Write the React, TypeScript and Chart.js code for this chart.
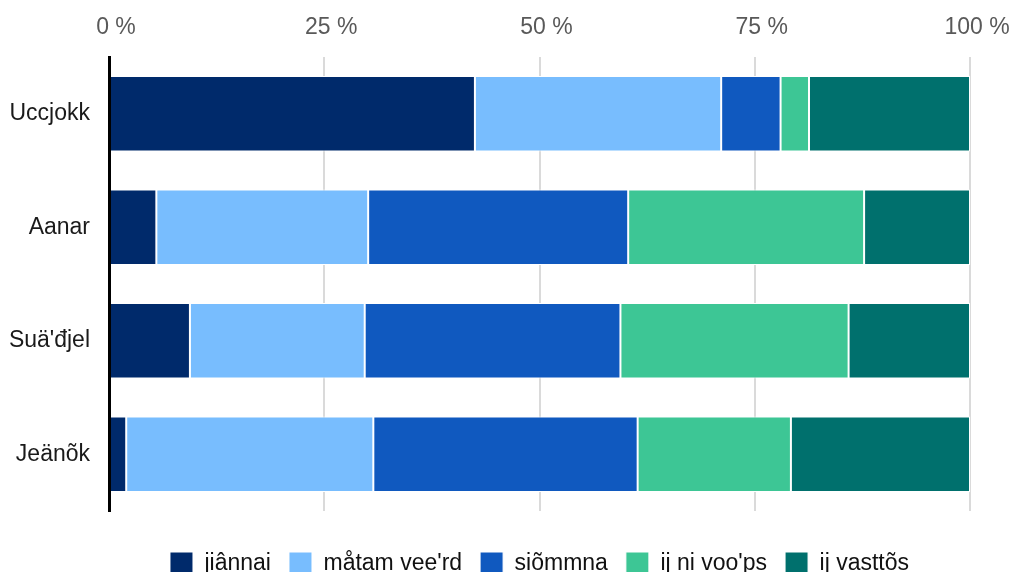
import React, { useEffect, useRef } from "react";
import { Chart, registerables } from "chart.js";

Chart.register(...registerables);

const categories = ["Uccjokk", "Aanar", "Suä'đjel", "Jeänõk"];
const seriesNames = ["jiânnai", "måtam vee'rd", "siõmmna", "ij ni voo'ps", "ij vasttõs"];
const seriesColors = ["#002A6B", "#78BDFE", "#1059BF", "#3DC695", "#00706D"];
const jiannai = [42.5, 5.5, 9.4, 2.0];
const matamVeerd = [28.6, 24.6, 20.3, 28.7];
const siommna = [6.9, 30.2, 29.7, 30.7];
const ijNiVoops = [3.3, 27.4, 26.5, 17.8];
const ijVasttos = [18.7, 12.3, 14.1, 20.8];
const tickValues = [0, 25, 50, 75, 100];

const FONT = "'Liberation Sans', Arial, sans-serif";

export default function App() {
  const ref = useRef<HTMLCanvasElement>(null);

  useEffect(() => {
    const canvas = ref.current;
    if (!canvas) return;
    const values = [jiannai, matamVeerd, siommna, ijNiVoops, ijVasttos];
    const chart = new Chart(canvas, {
      type: "bar",
      data: {
        labels: categories,
        datasets: seriesNames.map((name, i) => ({
          label: name,
          data: values[i],
          backgroundColor: seriesColors[i],
          borderColor: "#ffffff",
          borderWidth: 1,
          borderSkipped: false,
          barPercentage: 0.83,
          categoryPercentage: 0.8,
        })),
      },
      options: {
        indexAxis: "y",
        responsive: false,
        animation: false,
        devicePixelRatio: 1,
        layout: { padding: { left: 0, right: 44, top: 0, bottom: 0 } },
        scales: {
          x: {
            type: "linear",
            position: "top",
            stacked: true,
            min: 0,
            max: 100,
            afterBuildTicks: (scale: any) => {
              scale.ticks = tickValues.map((v) => ({ value: v }));
            },
            afterFit: (scale: any) => {
              scale.height = 57;
              scale.paddingLeft = 0;
              scale.paddingRight = 0;
            },
            ticks: {
              padding: 16,
              labelOffset: 7,
              color: "#595959",
              font: { family: FONT, size: 23 },
              callback: (v: any) => `${v} %`,
            },
            grid: {
              drawTicks: false,
              color: "#dadada",
              lineWidth: 2,
            },
            border: { display: false },
          },
          y: {
            stacked: true,
            afterFit: (scale: any) => {
              scale.width = 109;
            },
            ticks: {
              padding: 19,
              color: "#1a1a1a",
              font: { family: FONT, size: 23 },
            },
            grid: { display: false, drawTicks: false },
            border: { display: true, color: "#000000", width: 3, z: 1 },
          },
        },
        plugins: {
          tooltip: { enabled: false },
          legend: {
            position: "bottom",
            fullSize: false,
            title: {
              display: true,
              text: "",
              padding: { top: 13, bottom: 0 },
              font: { size: 10, lineHeight: 1 },
            },
            labels: {
              boxWidth: 23,
              boxHeight: 23,
              padding: 18,
              color: "#111111",
              font: { family: FONT, size: 23 },
            },
          },
        },
      },
    });
    return () => chart.destroy();
  }, []);

  return (
    <canvas
      ref={ref}
      width={1014}
      height={585}
      style={{ position: "fixed", top: 0, left: 0, display: "block" }}
    />
  );
}
